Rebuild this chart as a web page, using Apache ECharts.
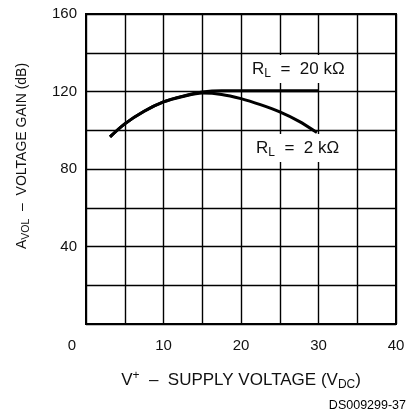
<!DOCTYPE html>
<html lang="en">
<head>
  <meta charset="UTF-8">
  <title>Open loop gain vs supply</title>
  <script src="https://cdn.jsdelivr.net/npm/echarts@6/dist/echarts.min.js"></script>
  <style>
    html, body { margin: 0; padding: 0; background: #fff; }
    #main { width: 413px; height: 412px; }
  </style>
</head>
<body>
  <div id="main"></div>
  <script>
    // supply voltage (V) / gain (dB)
    var vRL20k = [3.1, 5, 7.5, 10, 12.5, 15, 17.5, 20, 25, 30]
    var gainRL20k = [96.6, 103.3, 109.8, 114.6, 117.6, 119.7, 120.4, 120.4, 120.4, 120.4]
    var vRL2k = [3.1, 5, 7.5, 10, 12.5, 15, 17.5, 20, 22.5, 25, 27.5, 29.8]
    var gainRL2k = [96.6, 103.3, 109.8, 114.6, 117.4, 119.2, 118.5, 116.3, 113.2, 109.5, 104.6, 98.8]
    var xTicks = [0, 10, 20, 30, 40]
    var yTicks = [40, 80, 120, 160]

    function pairs(xs, ys) {
      return xs.map(function (x, i) { return [x, ys[i]] })
    }

    var font = 'Liberation Sans, Arial, sans-serif'
    var chart = echarts.init(document.getElementById('main'))

    chart.setOption({
      animation: false,
      backgroundColor: '#fff',
      grid: {
        left: 86, right: 17, top: 14, bottom: 88,
        show: true, borderColor: '#000', borderWidth: 2
      },
      xAxis: {
        type: 'value', min: 0, max: 40, interval: 5,
        axisLine: { show: true, lineStyle: { color: '#000', width: 2 } },
        axisTick: { show: false },
        splitLine: { show: true, lineStyle: { color: '#000', width: 1.4 } },
        axisLabel: {
          margin: 14, fontSize: 15, color: '#111', fontFamily: font,
          formatter: function (v) {
            if (xTicks.indexOf(v) < 0) return ''
            return v === 0 ? '{z|0}' : String(v)
          },
          rich: { z: { fontSize: 15, color: '#111', fontFamily: font, padding: [0, 28, 0, 0] } }
        },
        name: 'V{sup|+}  –  SUPPLY VOLTAGE (V{sub|DC})',
        nameLocation: 'middle',
        nameGap: 45,
        nameTextStyle: {
          fontSize: 17, color: '#111', fontFamily: font,
          rich: {
            sup: { fontSize: 12, color: '#111', fontFamily: font, padding: [0, 0, 9, 0] },
            sub: { fontSize: 12, color: '#111', fontFamily: font, padding: [10, 0, 0, 0] }
          }
        }
      },
      yAxis: {
        type: 'value', min: 0, max: 160, interval: 20,
        axisLine: { show: true, lineStyle: { color: '#000', width: 2 } },
        axisTick: { show: false },
        splitLine: { show: true, lineStyle: { color: '#000', width: 1.4 } },
        axisLabel: {
          margin: 9, fontSize: 15, color: '#111', fontFamily: font,
          formatter: function (v) { return yTicks.indexOf(v) >= 0 ? String(v) : '' }
        },
        name: 'A{sub|VOL}  –  VOLTAGE GAIN (dB)',
        nameLocation: 'middle',
        nameGap: 54,
        nameRotate: 90,
        nameTextStyle: {
          fontSize: 14, color: '#111', fontFamily: font,
          padding: [0, 0, 0, 26],
          rich: {
            sub: { fontSize: 10.5, color: '#111', fontFamily: font, padding: [8, 0, 0, 0] }
          }
        }
      },
      graphic: [
        {
          type: 'text', left: 248, top: 55, z: 10,
          style: {
            text: 'R{s|L}  =  20 k\u03A9',
            font: '17px ' + font, fill: '#111',
            backgroundColor: '#fff', padding: [3, 4, 3, 4],
            rich: { s: { fontSize: 12, fontFamily: font, fill: '#111', padding: [10, 0, 0, 0] } }
          }
        },
        {
          type: 'text', left: 252, top: 134, z: 10,
          style: {
            text: 'R{s|L}  =  2 k\u03A9',
            font: '17px ' + font, fill: '#111',
            backgroundColor: '#fff', padding: [3, 4, 3, 4],
            rich: { s: { fontSize: 12, fontFamily: font, fill: '#111', padding: [10, 0, 0, 0] } }
          }
        },
        {
          type: 'text', right: 7, top: 399,
          style: { text: 'DS009299-37', font: '12.5px ' + font, fill: '#000' }
        }
      ],
      series: [
        {
          name: 'RL = 20 kΩ', type: 'line', smooth: 0.3, symbol: 'none',
          lineStyle: { color: '#000', width: 3 },
          data: pairs(vRL20k, gainRL20k)
        },
        {
          name: 'RL = 2 kΩ', type: 'line', smooth: 0.3, symbol: 'none',
          lineStyle: { color: '#000', width: 3 },
          data: pairs(vRL2k, gainRL2k)
        }
      ]
    })
  </script>
</body>
</html>
